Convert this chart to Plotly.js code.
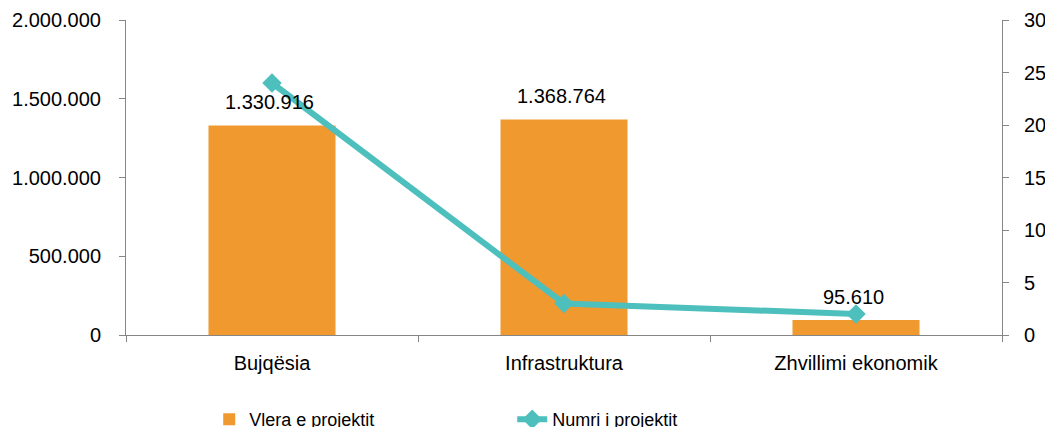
<!DOCTYPE html>
<html>
<head>
<meta charset="utf-8">
<script src="https://cdn.plot.ly/plotly-3.0.1.min.js"></script>
<style>
html,body{margin:0;padding:0;background:#fff;}
#chart{width:1045px;height:427px;}
</style>
</head>
<body>
<div id="chart"></div>
<script>
var categories = ["Bujqësia", "Infrastruktura", "Zhvillimi ekonomik"];
var projectValue = [1330916, 1368764, 95610];
var projectCount = [24, 3, 2];
var seriesNames = ["Vlera e projektit", "Numri i projektit"];
var leftTicks = [0, 500000, 1000000, 1500000, 2000000];
var rightTicks = [0, 5, 10, 15, 20, 25, 30];

function fmt(n) {
  return String(Math.round(n)).replace(/\B(?=(\d{3})+(?!\d))/g, ".");
}

var FONT = "Liberation Sans, Arial, sans-serif";
var AXIS = "#868686";

var bars = {
  type: "bar",
  name: seriesNames[0],
  x: categories,
  y: projectValue,
  marker: {color: "#F0992F"},
  yaxis: "y",
  hoverinfo: "skip"
};

var line = {
  type: "scatter",
  mode: "lines+markers",
  name: seriesNames[1],
  x: categories,
  y: projectCount,
  yaxis: "y2",
  line: {color: "#4DBFBD", width: 6},
  marker: {symbol: "diamond", size: 15, color: "#4DBFBD"},
  hoverinfo: "skip"
};

var annotations = categories.map(function (c, i) {
  return {
    x: c, y: projectValue[i], xref: "x", yref: "y",
    text: fmt(projectValue[i]),
    showarrow: false, yanchor: "bottom", yshift: 10, xshift: -3,
    font: {family: FONT, size: 20, color: "#000"}
  };
});

var layout = {
  width: 1045, height: 427,
  margin: {l: 126, r: 43, t: 20, b: 92, autoexpand: false},
  paper_bgcolor: "#fff", plot_bgcolor: "#fff",
  separators: ",.",
  font: {family: FONT, size: 20, color: "#000"},
  showlegend: true,
  bargap: 0.565,
  xaxis: {
    type: "category",
    showline: true, linecolor: AXIS, linewidth: 1,
    ticks: "outside", tickson: "boundaries", ticklen: 6, tickcolor: AXIS,
    ticklabelstandoff: 10,
    showgrid: false, zeroline: false,
    tickfont: {family: FONT, size: 20, color: "#000"}
  },
  yaxis: {
    range: [0, 2000000],
    tickvals: leftTicks,
    ticktext: leftTicks.map(fmt),
    showline: true, linecolor: AXIS, linewidth: 1,
    ticks: "outside", ticklen: 6, tickcolor: AXIS,
    ticklabelstandoff: 14,
    showgrid: false, zeroline: false,
    tickfont: {family: FONT, size: 20, color: "#000"}
  },
  yaxis2: {
    range: [0, 30],
    tickvals: rightTicks,
    overlaying: "y", side: "right",
    showline: true, linecolor: AXIS, linewidth: 1,
    ticks: "outside", ticklen: 6, tickcolor: AXIS,
    ticklabelstandoff: 11,
    showgrid: false, zeroline: false,
    tickfont: {family: FONT, size: 20, color: "#000"}
  },
  legend: {
    orientation: "h",
    x: 0.095, xanchor: "left",
    y: -0.21, yanchor: "top",
    entrywidth: 258, entrywidthmode: "pixels",
    font: {family: FONT, size: 18, color: "#000"},
    bgcolor: "rgba(0,0,0,0)"
  },
  annotations: annotations
};

Plotly.newPlot("chart", [bars, line], layout, {displayModeBar: false, staticPlot: true});
</script>
</body>
</html>
